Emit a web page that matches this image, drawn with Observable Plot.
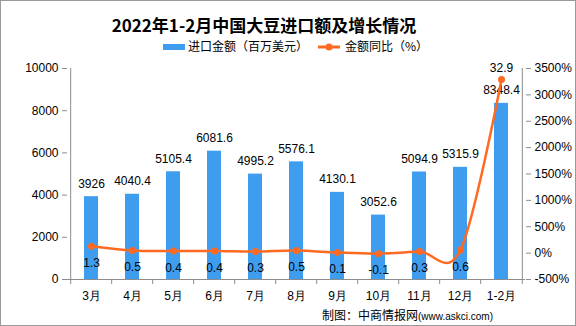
<!DOCTYPE html>
<html><head><meta charset="utf-8">
<script src="https://cdn.jsdelivr.net/npm/d3@7"></script>
<script src="https://cdn.jsdelivr.net/npm/@observablehq/plot@0.6"></script>
<style>
body{margin:0;background:#fff}
#c{position:relative;width:576px;height:326px;overflow:hidden;background:#fff;font-family:"Noto Sans CJK SC",sans-serif;color:#000}
#border{position:absolute;left:0;top:0;width:576px;height:326px;box-sizing:border-box;border:1px solid #9a9a9a;pointer-events:none}
#title{position:absolute;left:0;top:13px;width:528px;text-align:center;font-size:17px;font-weight:bold;line-height:24px;letter-spacing:0px}
.leg{position:absolute;top:38px;font-size:12px;line-height:16px;white-space:nowrap}
#src{position:absolute;left:322px;top:306px;font-size:12px;line-height:18px;white-space:nowrap}
#src span{font-family:"Liberation Sans",Arial,sans-serif;font-size:10px}
svg.p{position:absolute;left:0;top:55px}
</style></head><body>
<div id="c">
<div id="title">2022年1-2月中国大豆进口额及增长情况</div>
<div class="leg" style="left:163px"><span style="display:inline-block;width:22px;height:6px;background:#3f9df0;vertical-align:middle;margin-right:3px;position:relative;top:-1px"></span>进口金额（百万美元）</div>
<div class="leg" style="left:318px"><svg width="24" height="10" style="vertical-align:middle;margin-right:3px;position:relative;top:-1px"><line x1="0" y1="5" x2="22" y2="5" stroke="#ff6a22" stroke-width="3"/><circle cx="11" cy="5" r="3.5" fill="#ff6a22"/></svg>金额同比（%）</div>
<div id="src">制图：中商情报网<span>(www.askci.com)</span></div>
<div id="border"></div>
</div>
<script>
const months = ["3月","4月","5月","6月","7月","8月","9月","10月","11月","12月","1-2月"];
const importValue = [3926, 4040.4, 5105.4, 6081.6, 4995.2, 5576.1, 4130.1, 3052.6, 5094.9, 5315.9, 8348.4];
const yoyRatio = [1.3, 0.5, 0.4, 0.4, 0.3, 0.5, 0.1, -0.1, 0.3, 0.6, 32.9];
const leftTicks = [0, 2000, 4000, 6000, 8000, 10000];
const rightTicks = [-500, 0, 500, 1000, 1500, 2000, 2500, 3000, 3500];

const rows = months.map((m, i) => ({month: m, value: importValue[i], yoy: yoyRatio[i], pct: yoyRatio[i] * 100}));

const W = 576, H = 255, mL = 67, mR = 51, mT = 13, mB = 31;
const step = (W - mL - mR) / months.length;
const xOpt = {domain: months, paddingInner: 0.66, paddingOuter: 0.33, align: 0.5, label: null};
const gray = "#8c8c8c";
const style = {fontFamily: "'Liberation Sans', Arial, sans-serif", fontSize: "12px", background: "transparent", overflow: "visible", color: "#000"};

const p1 = Plot.plot({
  width: W, height: H, marginLeft: mL, marginRight: mR, marginTop: mT, marginBottom: mB,
  style,
  x: xOpt,
  y: {domain: [0, 10000], label: null},
  marks: [
    Plot.barY(rows, {x: "month", y: "value", fill: "#3f9df0"}),
    Plot.text(rows, {x: "month", y: "value", text: d => String(d.value), dy: -13, fontSize: 12, fill: "#000"}),
    Plot.ruleY([0], {stroke: gray}),
    Plot.ruleX([months[0]], {dx: -step / 2, y1: 0, y2: 10000, stroke: gray}),
    Plot.ruleX([months[months.length - 1]], {dx: step / 2, y1: 0, y2: 10000, stroke: gray}),
    Plot.axisY({ticks: leftTicks, tickSize: 5, tickPadding: 4, tickFormat: d => String(d), stroke: gray, fill: "#000", fontSize: 12, label: null}),
    Plot.axisX({tickSize: 0, tickPadding: 12, fontSize: 12, fill: "#000", label: null}),
    Plot.axisX(months, {tickSize: 5, dx: -step / 2, tickFormat: () => "", stroke: gray, label: null}),
    Plot.axisX([months[months.length - 1]], {tickSize: 5, dx: step / 2, tickFormat: () => "", stroke: gray, label: null})
  ]
});
p1.classList.add("p");

const p2 = Plot.plot({
  width: W, height: H, marginLeft: mL, marginRight: mR, marginTop: mT, marginBottom: mB,
  style,
  x: {...xOpt, axis: null},
  y: {domain: [-500, 3500], label: null},
  marks: [
    Plot.line(rows, {x: "month", y: "pct", stroke: "#ff6a22", strokeWidth: 2.5, curve: "cardinal", tension: 0}),
    Plot.dot(rows, {x: "month", y: "pct", r: 3.5, fill: "#ff6a22"}),
    Plot.text(rows.slice(0, -1), {x: "month", y: "pct", text: d => d.yoy.toFixed(1), dy: 17, fontSize: 12, fill: "#000"}),
    Plot.text(rows.slice(-1), {x: "month", y: "pct", text: d => d.yoy.toFixed(1), dy: -11, fontSize: 12, fill: "#000"}),
    Plot.axisY({anchor: "right", ticks: rightTicks, tickSize: 5, tickPadding: 4, tickFormat: d => d + "%", stroke: gray, fill: "#000", fontSize: 12, label: null})
  ]
});
p2.classList.add("p");

const c = document.getElementById("c");
c.insertBefore(p1, document.getElementById("border"));
c.insertBefore(p2, document.getElementById("border"));
</script>
</body></html>
